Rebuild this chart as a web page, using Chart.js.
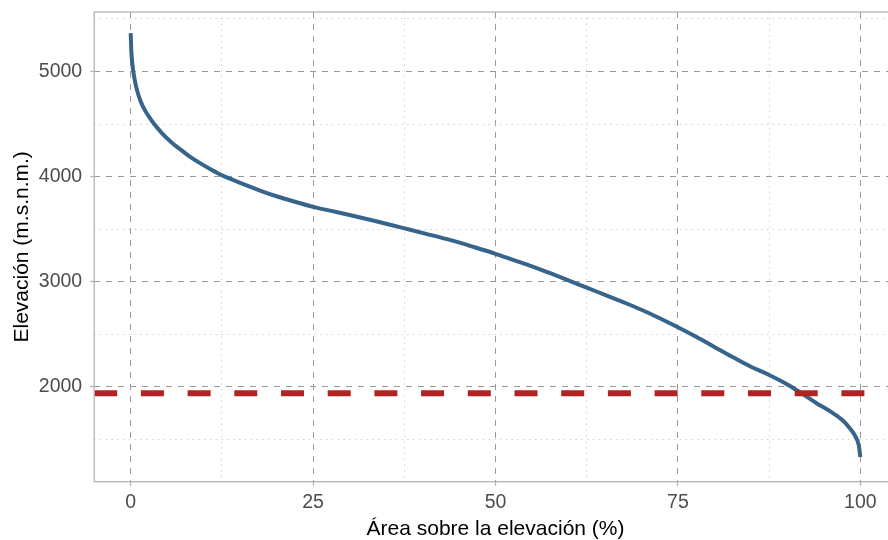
<!DOCTYPE html>
<html>
<head>
<meta charset="utf-8">
<title>Curva hipsométrica</title>
<script src="https://cdn.jsdelivr.net/npm/chart.js@4.4.1/dist/chart.umd.min.js"></script>
<style>
  html, body { margin: 0; padding: 0; overflow: hidden; background: #fff; }
  #wrap { width: 904px; height: 540px; }
</style>
</head>
<body>
<div id="wrap"><canvas id="myChart" width="904" height="540"></canvas></div>
<script>
// curva hipsometrica: % de area sobre cada elevacion
const areaPct = [0, 0.1, 0.25, 0.45, 0.7, 1.0, 1.4, 2.0, 2.8, 3.6, 4.3, 5.5, 6.8, 8.0, 9.5, 11, 12.5, 14, 15.7, 18,
  20.2, 22.5, 25, 27.5, 30, 33.5, 37, 40.5, 44, 47, 50, 52.5, 55, 57.5, 60, 62.5, 65, 67.5, 70, 72.5,
  75, 77.5, 80, 82.5, 85, 87.5, 90, 92, 94, 96, 97.5, 98.5, 99.3, 99.8, 100];
const elevation = [5365, 5180, 5060, 4960, 4870, 4790, 4710, 4625, 4540, 4468, 4412, 4332, 4258, 4195, 4128, 4068, 4013, 3968, 3920, 3860,
  3808, 3760, 3712, 3673, 3634, 3577, 3516, 3455, 3392, 3330, 3265, 3205, 3146, 3080, 3012, 2942, 2875, 2805, 2732, 2652,
  2566, 2475, 2378, 2282, 2190, 2112, 2022, 1935, 1843, 1760, 1685, 1610, 1530, 1440, 1330];
const umbral = 1937; // linea roja

const xLimits = [-5, 105];
const yLimits = [1096, 5566];
const xTicks = [0, 25, 50, 75, 100];
const yTicks = [2000, 3000, 4000, 5000];
const xGrid = [0, 12.5, 25, 37.5, 50, 62.5, 75, 87.5, 100];
const yGrid = [1500, 2000, 2500, 3000, 3500, 4000, 4500, 5000, 5500];

Chart.defaults.font.family = "'Liberation Sans', Arial, sans-serif";

const isMajor = (ticks, ctx) => !!ctx.tick && ticks.includes(ctx.tick.value);

// borde del panel (como ggplot)
const panelBorder = {
  id: 'panelBorder',
  afterDatasetsDraw(chart) {
    const { ctx, chartArea: a } = chart;
    ctx.save();
    ctx.strokeStyle = '#b3b3b3';
    ctx.lineWidth = 1.3;
    ctx.strokeRect(a.left, a.top, a.right - a.left, a.bottom - a.top);
    ctx.restore();
  }
};

function gridFor(ticks) {
  return {
    color: ctx => isMajor(ticks, ctx) ? '#999999' : '#d2d2d2',
    lineWidth: 1,
    tickLength: 4,
    tickWidth: 1.3,
    tickColor: ctx => isMajor(ticks, ctx) ? '#b3b3b3' : 'rgba(0,0,0,0)'
  };
}

new Chart(document.getElementById('myChart'), {
  type: 'line',
  data: {
    datasets: [
      {
        label: 'umbral',
        data: xLimits.map(x => ({ x: x, y: umbral })),
        borderColor: '#B22222',
        borderWidth: 6,
        borderDash: [23, 23.7],
        pointRadius: 0,
        order: 0
      },
      {
        label: 'Curva hipsométrica',
        data: areaPct.map((x, i) => ({ x: x, y: elevation[i] })),
        borderColor: '#36648B',
        borderWidth: 4,
        pointRadius: 0,
        cubicInterpolationMode: 'monotone',
        order: 1
      }
    ]
  },
  options: {
    responsive: false,
    animation: false,
    layout: { padding: { top: 12, right: 7.2, left: 0, bottom: 0 } },
    plugins: { legend: { display: false }, tooltip: { enabled: false } },
    scales: {
      x: {
        type: 'linear',
        min: xLimits[0],
        max: xLimits[1],
        afterBuildTicks: s => { s.ticks = xGrid.map(v => ({ value: v })); },
        afterFit: s => { s.height = 58.3; s.paddingLeft = 0; s.paddingRight = 0; },
        grid: gridFor(xTicks),
        border: { display: false, dash: ctx => isMajor(xTicks, ctx) ? [6, 6] : [1.5, 4.3] },
        ticks: {
          autoSkip: false,
          maxRotation: 0,
          padding: 5,
          color: '#4d4d4d',
          font: { size: 19.5 },
          callback: v => xTicks.includes(v) ? String(v) : ''
        },
        title: {
          display: true,
          text: 'Área sobre la elevación (%)',
          color: '#000',
          font: { size: 21, lineHeight: 1 },
          padding: { top: 0, bottom: 0 }
        }
      },
      y: {
        type: 'linear',
        min: yLimits[0],
        max: yLimits[1],
        afterBuildTicks: s => { s.ticks = yGrid.map(v => ({ value: v })); },
        afterFit: s => { s.width = 94.2; s.paddingTop = 0; s.paddingBottom = 0; },
        grid: gridFor(yTicks),
        border: { display: false, dash: ctx => isMajor(yTicks, ctx) ? [6, 6] : [1.5, 4.3] },
        ticks: {
          autoSkip: false,
          padding: 8,
          color: '#4d4d4d',
          font: { size: 19.5 },
          callback: v => yTicks.includes(v) ? String(v) : ''
        },
        title: {
          display: true,
          text: 'Elevación (m.s.n.m.)',
          color: '#000',
          font: { size: 21, lineHeight: 1 },
          padding: { top: 11.5, bottom: 0 }
        }
      }
    }
  },
  plugins: [panelBorder]
});
</script>
</body>
</html>
